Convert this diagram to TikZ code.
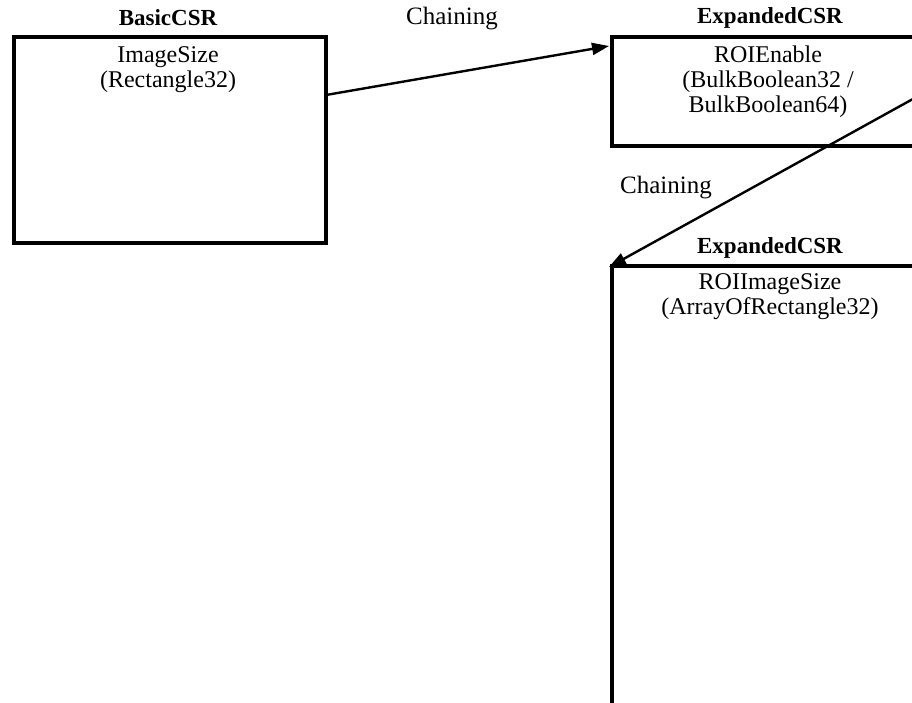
\documentclass[tikz,border=0pt]{standalone}
\usepackage{fontspec}
\setmainfont{Liberation Serif}
\usetikzlibrary{arrows.meta}
\begin{document}
\begin{tikzpicture}[x=1pt,y=-1pt,
  frame/.style={draw, line width=4pt, inner sep=0pt, anchor=north west},
  lbl/.style={font=\fontsize{24}{25}\selectfont, inner sep=0pt, align=center},
  clbl/.style={font=\fontsize{25}{26}\selectfont, inner sep=0pt},
  ttl/.style={font=\fontsize{23}{25}\selectfont\bfseries, inner sep=0pt},
  chain/.style={line width=2.4pt, -{Triangle[length=17pt,width=12pt]}}]
\clip (0,0) rectangle (912,703);
\fill[white] (0,0) rectangle (912,703);
% boxes
\node[frame, minimum width=312pt, minimum height=206pt] (basic) at (12,35) {};
\node[frame, minimum width=340pt, minimum height=109pt] (exp1) at (610,35) {};
\node[frame, minimum width=340pt, minimum height=480pt] (exp2) at (610,264) {};
% titles
\node[ttl] (t1) at (168,18) {BasicCSR};
\node[ttl] (t2) at (770,18) {ExpandedCSR};
\node[ttl] (t3) at (770,248) {ExpandedCSR};
% contents
\node[lbl] (c1) at (168,70) {ImageSize\\(Rectangle32)};
\node[lbl] (c2) at (768,82) {ROIEnable\\(BulkBoolean32 /\\BulkBoolean64)};
\node[lbl] (c3) at (770,297) {ROIImageSize\\(ArrayOfRectangle32)};
% connectors
\coordinate (s1) at (326,95);
\coordinate (e1) at (609,46);
\coordinate (s2) at (940,84);
\coordinate (e2) at (609,267);
\draw[chain] (s1) -- (e1);
\draw[chain] (s2) -- (e2);
\node[clbl] (l1) at (452,19) {Chaining};
\node[clbl] (l2) at (666,188) {Chaining};
\end{tikzpicture}
\end{document}
